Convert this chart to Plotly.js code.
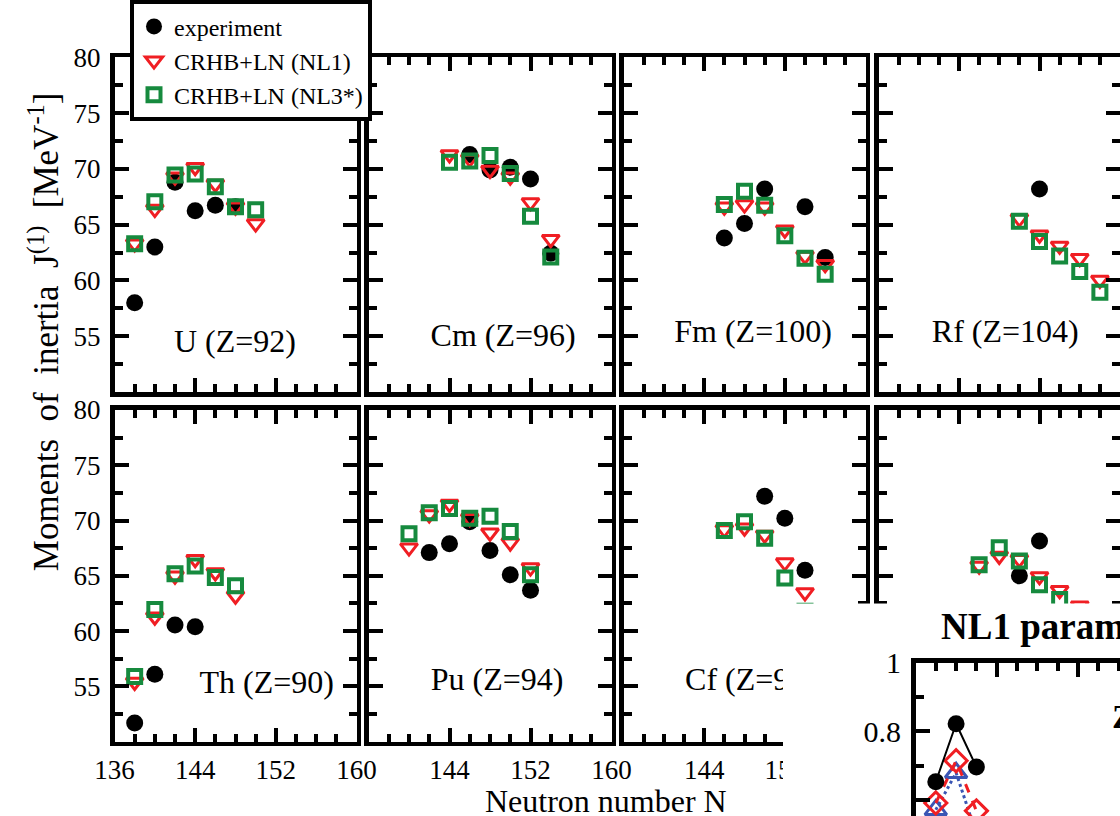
<!DOCTYPE html>
<html><head><meta charset="utf-8">
<script src="https://cdn.plot.ly/plotly-3.0.1.min.js"></script>
<style>html,body{margin:0;padding:0;background:#fff}#chart{width:1120px;height:816px}</style>
</head><body><div id="chart"></div>
<script>
// ---------- data ----------
const U_N_exp = [138,140,142,144,146,148];
const U_exp   = [58.0,63.0,68.8,66.25,66.75,66.6];
const U_N_th  = [138,140,142,144,146,148,150];
const U_nl1   = [63.3,66.4,69.3,70.15,68.65,66.6,65.1];
const U_nl3   = [63.3,67.05,69.45,69.55,68.4,66.6,66.35];

const Cm_N_exp = [146,148,150,152,154];
const Cm_exp   = [71.3,69.9,70.15,69.1,62.45];
const Cm_N_th  = [144,146,148,150,152,154];
const Cm_nl1   = [71.3,70.9,69.9,69.3,67.0,63.7];
const Cm_nl3   = [70.6,70.7,71.2,69.6,65.75,62.1];

const Fm_N_exp = [146,148,150,154,156];
const Fm_exp   = [63.8,65.1,68.2,66.6,62.05];
const Fm_N_th  = [146,148,150,152,154,156];
const Fm_nl1   = [66.6,66.8,66.6,64.55,62.2,61.45];
const Fm_nl3   = [66.8,68.0,66.75,64.0,62.0,60.55];

const Rf_N_exp = [152];
const Rf_exp   = [68.2];
const Rf_N_th  = [150,152,154,156,158];
const Rf_nl1   = [65.55,64.1,63.1,62.0,60.05];
const Rf_nl3   = [65.3,63.5,62.2,60.8,58.95];

const Th_N_exp = [138,140,142,144];
const Th_exp   = [51.7,56.1,60.55,60.4];
const Th_N_th  = [138,140,142,144,146,148];
const Th_nl1   = [55.4,61.3,65.0,66.5,65.3,63.2];
const Th_nl3   = [55.9,61.95,65.2,65.9,64.85,64.1];

const Pu_N_exp = [142,144,146,148,150,152];
const Pu_exp   = [67.1,67.9,69.9,67.3,65.1,63.7];
const Pu_N_th  = [140,142,144,146,148,150,152];
const Pu_nl1   = [67.55,70.55,71.5,70.2,68.9,68.0,65.75];
const Pu_nl3   = [68.8,70.7,71.1,70.2,70.4,69.0,65.1];

const Cf_N_exp = [150,152,154];
const Cf_exp   = [72.2,70.2,65.5];
const Cf_N_th  = [146,148,150,152,154];
const Cf_nl1   = [69.2,69.35,68.7,66.2,63.5];
const Cf_nl3   = [69.1,69.9,68.4,64.8,61.8];

const No_N_exp = [150,152];
const No_exp   = [65.0,68.15];
const No_N_nl1 = [146,148,150,152,154,156];
const No_nl1   = [65.9,66.8,66.5,64.95,63.7,62.3];
const No_N_nl3 = [146,148,150,152,154];
const No_nl3   = [66.0,67.55,66.35,64.2,62.85];

const panelLabels = ['U (Z=92)','Cm (Z=96)','Fm (Z=100)','Rf (Z=104)','Th (Z=90)','Pu (Z=94)','Cf (Z=98)','No (Z=102)'];
const labelPosN = [147.95,149.3,148.85,148.6,151.1,148.7,148.6,148.6];
const labelPosJ = [54.3,54.8,55.2,55.2,55.1,55.4,55.4,55.4];

const legendNames = ['experiment','CRHB+LN (NL1)','CRHB+LN (NL3*)'];
const xTickVals = [136,144,152,160];
const xTickTextFirst = ['136','144','152','160'];
const xTickTextOther = ['','144','152','160'];
const yTickVals = [50,55,60,65,70,75,80];
const yTickText = ['','55','60','65','70','75','80'];

// inset (NL1 parametrization)
const inset_N     = [138,140,142];
const inset_black = [0.653,0.822,0.696];
const inset_red   = [0.591,0.714,0.568];
const inset_blue  = [0.571,0.679,0.50];
const insetTickVals = [0.6,0.8,1.0];
const insetTickText = ['0.6','0.8','1'];

// ---------- layout geometry ----------
const W = 1120, H = 816, LW = 4.5;
const FONT = 'Liberation Serif, Times New Roman, serif';
const RED = 'rgb(240,30,35)', GREEN = 'rgb(22,138,62)', BLUE = 'rgb(58,85,180)';
const cols = [[114.5,356.5],[368.5,611.5],[623.5,865.5],[878.5,1120]];
const rows = [[55.5,391],[409,741.5]];
const dx = (a,b) => [a/W, b/W];
const dy = (t,b) => [1-b/H, 1-t/H];

const panels = [
  [U_N_exp,U_exp,U_N_th,U_nl1,U_N_th,U_nl3],
  [Cm_N_exp,Cm_exp,Cm_N_th,Cm_nl1,Cm_N_th,Cm_nl3],
  [Fm_N_exp,Fm_exp,Fm_N_th,Fm_nl1,Fm_N_th,Fm_nl3],
  [Rf_N_exp,Rf_exp,Rf_N_th,Rf_nl1,Rf_N_th,Rf_nl3],
  [Th_N_exp,Th_exp,Th_N_th,Th_nl1,Th_N_th,Th_nl3],
  [Pu_N_exp,Pu_exp,Pu_N_th,Pu_nl1,Pu_N_th,Pu_nl3],
  [Cf_N_exp,Cf_exp,Cf_N_th,Cf_nl1,Cf_N_th,Cf_nl3],
  [No_N_exp,No_exp,No_N_nl1,No_nl1,No_N_nl3,No_nl3]
];

const traces = [];
const layout = {
  width: W, height: H, margin: {l:0,r:0,t:0,b:0},
  paper_bgcolor: 'white', plot_bgcolor: 'white',
  hovermode: false, showlegend: true,
  font: {family: FONT, color: 'black'},
  legend: {x: 130/W, y: 1-59/H, xanchor: 'left', yanchor: 'middle',
           bgcolor: 'white', bordercolor: 'black', borderwidth: 4,
           font: {family: FONT, size: 24, color: 'black'}},
  annotations: []
};

const tickFont = {family: FONT, size: 27, color: 'black'};

panels.forEach((p, i) => {
  const r = Math.floor(i/4), c = i % 4;
  const s = i === 0 ? '' : String(i+1);
  const xa = 'x'+s, ya = 'y'+s;
  layout['xaxis'+s] = {
    domain: dx(cols[c][0], cols[c][1]), range: [136,160], anchor: ya,
    showline: true, linewidth: LW, linecolor: 'black', mirror: 'ticks',
    ticks: 'inside', ticklen: 14, tickwidth: 4, tickcolor: 'black',
    tickmode: 'array', tickvals: xTickVals, ticktext: c === 0 ? xTickTextFirst : xTickTextOther,
    showticklabels: r === 1, tickfont: tickFont, ticklabelstandoff: 0,
    showgrid: false, zeroline: false, fixedrange: true,
    minor: {ticks: 'inside', tickmode: 'linear', tick0: 136, dtick: 2, ticklen: 8, tickwidth: 4, tickcolor: 'black', showgrid: false}
  };
  layout['yaxis'+s] = {
    domain: dy(rows[r][0], rows[r][1]), range: [50,80], anchor: xa,
    showline: true, linewidth: LW, linecolor: 'black', mirror: 'ticks',
    ticks: 'inside', ticklen: 14, tickwidth: 4, tickcolor: 'black',
    tickmode: 'array', tickvals: yTickVals, ticktext: yTickText,
    showticklabels: c === 0, tickfont: tickFont, ticklabelstandoff: 4,
    showgrid: false, zeroline: false, fixedrange: true,
    minor: {ticks: 'inside', tickmode: 'linear', tick0: 50, dtick: 2.5, ticklen: 8, tickwidth: 4, tickcolor: 'black', showgrid: false}
  };
  const leg = i === 0;
  traces.push({type:'scatter', mode:'markers', x:p[0], y:p[1], xaxis:xa, yaxis:ya,
    name: legendNames[0], showlegend: leg,
    marker:{symbol:'circle', size:17, color:'black'}});
  traces.push({type:'scatter', mode:'markers', x:p[2], y:p[3], xaxis:xa, yaxis:ya,
    name: legendNames[1], showlegend: leg,
    marker:{symbol:'triangle-down-open', size:15, color:RED, line:{width:3, color:RED}}});
  traces.push({type:'scatter', mode:'markers', x:p[4], y:p[5], xaxis:xa, yaxis:ya,
    name: legendNames[2], showlegend: leg,
    marker:{symbol:'square-open', size:13, color:GREEN, line:{width:4, color:GREEN}}});
  traces.push({type:'scatter', mode:'text', x:[labelPosN[i]], y:[labelPosJ[i]], xaxis:xa, yaxis:ya,
    text:[panelLabels[i]], textposition:'middle center', showlegend:false, cliponaxis:false,
    textfont:{family: FONT, size: 32, color: 'black'}});
});

// white inset frame (covers part of lower-right panels)
layout.xaxis9 = {domain: dx(783, 1120), range: [0,1], anchor: 'y9', visible: false, fixedrange: true};
layout.yaxis9 = {domain: dy(603, 816), range: [0,1], anchor: 'x9', visible: false, fixedrange: true};
traces.push({type:'scatter', mode:'markers', x:[], y:[], xaxis:'x9', yaxis:'y9', showlegend:false});

// inset axes
const insetScale = 10.15;
layout.xaxis10 = {
  domain: dx(915.5, 1120), range: [136, 136 + (1120-915.5)/insetScale], anchor: 'y10', side: 'top',
  showline: true, linewidth: LW, linecolor: 'black', mirror: false,
  ticks: 'inside', ticklen: 14, tickwidth: 4, tickcolor: 'black',
  tickmode: 'array', tickvals: [136,144,152], showticklabels: false,
  showgrid: false, zeroline: false, fixedrange: true,
  minor: {ticks: 'inside', tickmode: 'linear', tick0: 136, dtick: 2, ticklen: 8, tickwidth: 4, tickcolor: 'black', showgrid: false}
};
layout.yaxis10 = {
  domain: dy(662.25, 816), range: [1 - (816-662.25)/344, 1], anchor: 'x10', side: 'left',
  showline: true, linewidth: LW, linecolor: 'black', mirror: false,
  ticks: 'inside', ticklen: 14, tickwidth: 4, tickcolor: 'black',
  tickmode: 'array', tickvals: insetTickVals, ticktext: insetTickText,
  tickfont: {family: FONT, size: 30, color: 'black'}, ticklabelstandoff: 4,
  showgrid: false, zeroline: false, fixedrange: true,
  minor: {ticks: 'inside', tickmode: 'linear', tick0: 0.5, dtick: 0.1, ticklen: 8, tickwidth: 4, tickcolor: 'black', showgrid: false}
};
traces.push({type:'scatter', mode:'lines+markers', x:inset_N, y:inset_blue, xaxis:'x10', yaxis:'y10', showlegend:false,
  line:{color:BLUE, width:3, dash:'dot'}, marker:{symbol:'triangle-up-open', size:19, color:BLUE, line:{width:3, color:BLUE}}});
traces.push({type:'scatter', mode:'lines+markers', x:inset_N, y:inset_red, xaxis:'x10', yaxis:'y10', showlegend:false,
  line:{color:RED, width:3, dash:'dash'}, marker:{symbol:'diamond-open', size:17, color:RED, line:{width:3, color:RED}}});
traces.push({type:'scatter', mode:'lines+markers', x:inset_N, y:inset_black, xaxis:'x10', yaxis:'y10', showlegend:false,
  line:{color:'black', width:2}, marker:{symbol:'circle', size:17, color:'black'}});

layout.annotations.push(
  {text: 'Moments\u00a0\u00a0of\u00a0\u00a0inertia\u00a0\u00a0J<sup>(1)</sup>\u00a0\u00a0[MeV<sup>-1</sup>]',
   xref:'paper', yref:'paper', x: 44/W, y: 1-331/H, xanchor:'center', yanchor:'middle',
   textangle: -90, showarrow: false, font:{family: FONT, size: 35, color:'black'}},
  {text: 'Neutron number N', xref:'paper', yref:'paper', x: 606/W, y: 1-801/H,
   xanchor:'center', yanchor:'middle', showarrow:false, font:{family: FONT, size: 32, color:'black'}},
  {text: '<b>NL1 parametrization</b>', xref:'paper', yref:'paper', x: 939/W, y: 1-626/H,
   xanchor:'left', yanchor:'middle', showarrow:false, font:{family: FONT, size: 37, color:'black'}},
  {text: '<b>Z=90</b>', xref:'paper', yref:'paper', x: 1110/W, y: 1-716/H,
   xanchor:'left', yanchor:'middle', showarrow:false, font:{family: FONT, size: 34, color:'black'}}
);

Plotly.newPlot('chart', traces, layout, {displayModeBar: false, staticPlot: true});
</script></body></html>
